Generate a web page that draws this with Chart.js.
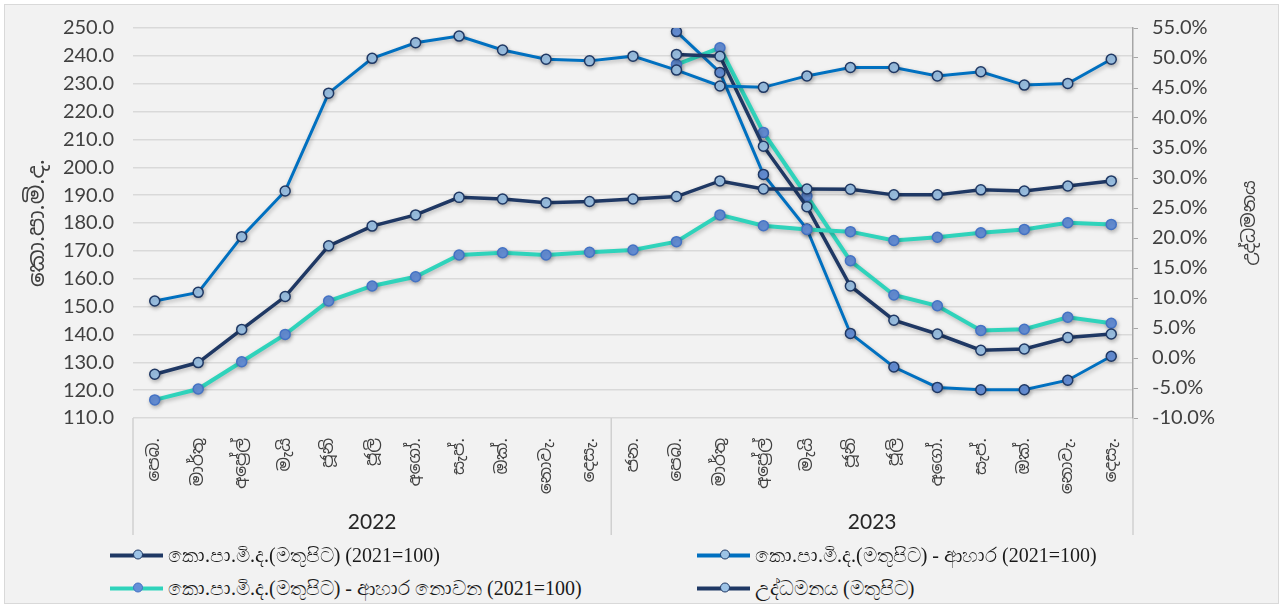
<!DOCTYPE html>
<html>
<head>
<meta charset="utf-8">
<script src="https://cdn.jsdelivr.net/npm/chart.js@4.4.1/dist/chart.umd.min.js"></script>
<style>
  html, body { margin: 0; padding: 0; background: #fff; }
  #wrap {
    position: absolute; left: 4px; top: 4px;
    width: 1273px; height: 598px;
    background: #f2f2f2; border: 1px solid #d9d9d9;
  }
  #box { position: absolute; left: 0; top: 0; width: 1273px; height: 540px; }
  .leg {
    position: absolute; display: flex; align-items: center;
    font: 20px "Liberation Serif", "Times New Roman", serif; color: #1a1a1a;
    white-space: nowrap; transform: translateY(-50%);
  }
  .sw { position: relative; width: 53px; height: 4px; margin-right: 5px; }
  .sw i {
    position: absolute; left: 23px; top: -4px; width: 8px; height: 8px;
    border-radius: 50%; border: 1.5px solid;
  }
</style>
</head>
<body>
<div id="wrap">
  <div id="box"><canvas id="chart"></canvas></div>
  <div id="legend"></div>
</div>
<script>
const months = [
  'පෙබ.', 'මාර්තු', 'අප්‍රේල්', 'මැයි', 'ජූනි', 'ජූලි', 'අගෝ.', 'සැප්.', 'ඔක්.', 'නොවැ.', 'දෙසැ.',
  'ජන.', 'පෙබ.', 'මාර්තු', 'අප්‍රේල්', 'මැයි', 'ජූනි', 'ජූලි', 'අගෝ.', 'සැප්.', 'ඔක්.', 'නොවැ.', 'දෙසැ.'
];
const years = ['2022', '2023'];
const yearCounts = [11, 12];

// index series (left axis)
const ccpi = [125.7, 129.9, 141.8, 153.6, 171.8, 178.9, 182.9, 189.2, 188.6, 187.3, 187.7,
  188.6, 189.5, 195.1, 192.2, 192.2, 192.1, 190.1, 190.1, 191.9, 191.5, 193.3, 195.1];
const ccpiFood = [152.0, 155.1, 175.1, 191.5, 226.6, 239.1, 244.7, 247.1, 242.1, 238.8, 238.2,
  239.9, 234.9, 229.2, 228.7, 232.8, 235.8, 235.8, 232.8, 234.3, 229.5, 230.1, 238.8];
const ccpiNonFood = [116.5, 120.4, 130.2, 140.0, 152.0, 157.4, 160.7, 168.5, 169.3, 168.5, 169.5,
  170.3, 173.3, 182.9, 179.0, 177.7, 176.9, 173.7, 174.9, 176.5, 177.7, 180.1, 179.5];

// inflation series (right axis), Feb 2023 onwards
const pad = new Array(12).fill(null);
const inflation = [...pad, 50.6, 50.3, 35.3, 25.2, 12.0, 6.3, 4.0, 1.3, 1.5, 3.4, 4.0];
const foodInflation = [...pad, 54.4, 47.6, 30.6, 21.5, 4.1, -1.5, -4.9, -5.3, -5.3, -3.7, 0.3];
const nonFoodInflation = [...pad, 48.9, 51.7, 37.6, 27.0, 16.2, 10.5, 8.7, 4.6, 4.8, 6.8, 5.8];

const leftTitle = 'කො.පා.මි.ද.';
const rightTitle = 'උද්ධමනය';

const NAVY = '#1f3864';
const BLUE = '#0070c0';
const TEAL = '#2fd3bb';
const LIGHT = '#9dc3e6';
const MID = '#6690d8';

const sinFont = '"Noto Sans Sinhala", "Iskoola Pota", "Noto Sans", Lato, sans-serif';
const numFont = 'Lato, "Noto Sans", sans-serif';

function ds(label, data, axis, line, fill, edge, width, legend) {
  return {
    label, data, yAxisID: axis, legendShow: legend,
    borderColor: line, borderWidth: width,
    pointBackgroundColor: fill, pointBorderColor: edge,
    pointBorderWidth: 1.5, pointRadius: 5, pointHoverRadius: 5,
    tension: 0, spanGaps: false,
  };
}

const datasets = [
  ds('කො.පා.මි.ද.(මතුපිට) (2021=100)', ccpi, 'y', NAVY, LIGHT, NAVY, 3.5, true),
  ds('කො.පා.මි.ද.(මතුපිට) - ආහාර (2021=100)', ccpiFood, 'y', BLUE, LIGHT, NAVY, 3, true),
  ds('කො.පා.මි.ද.(මතුපිට) - ආහාර නොවන (2021=100)', ccpiNonFood, 'y', TEAL, MID, '#4472c4', 4, true),
  ds('උද්ධමනය (මතුපිට)', inflation, 'y1', NAVY, LIGHT, NAVY, 3.5, true),
  ds('ආහාර උද්ධමනය', foodInflation, 'y1', BLUE, MID, NAVY, 3, false),
  ds('ආහාර නොවන උද්ධමනය', nonFoodInflation, 'y1', TEAL, MID, '#4472c4', 4, false),
];

const shadow = {
  id: 'shadow',
  beforeDatasetDraw(c) {
    const ctx = c.ctx;
    ctx.save();
    ctx.shadowColor = 'rgba(0,0,0,0.25)';
    ctx.shadowBlur = 4;
    ctx.shadowOffsetX = 1;
    ctx.shadowOffsetY = 2;
  },
  afterDatasetDraw(c) { c.ctx.restore(); },
};

const extras = {
  id: 'extras',
  afterDraw(c) {
    const ctx = c.ctx;
    const xs = c.scales.x;
    const area = c.chartArea;
    ctx.save();
    // group separators and year labels under the month ticks
    ctx.strokeStyle = '#d0d0d0';
    ctx.lineWidth = 1.5;
    let start = 0;
    const edges = [xs.getPixelForValue(-0.5)];
    yearCounts.forEach((n) => { start += n; edges.push(xs.getPixelForValue(start - 0.5)); });
    edges.forEach((x) => {
      ctx.beginPath();
      ctx.moveTo(x, area.bottom);
      ctx.lineTo(x, 530);
      ctx.stroke();
    });
    ctx.fillStyle = '#262626';
    ctx.font = '21px ' + numFont;
    ctx.textAlign = 'center';
    ctx.textBaseline = 'middle';
    years.forEach((y, i) => ctx.fillText(y, (edges[i] + edges[i + 1]) / 2, 517));
    // axis titles, both reading bottom to top
    ctx.fillStyle = '#404040';
    const mid = (area.top + area.bottom) / 2;
    [[33, leftTitle, 23], [1245, rightTitle, 18]].forEach(([x, t, sz]) => {
      ctx.save();
      ctx.font = sz + 'px ' + sinFont;
      ctx.translate(x, mid);
      ctx.rotate(-Math.PI / 2);
      ctx.fillText(t, 0, 0);
      ctx.restore();
    });
    ctx.restore();
  },
};

function fixSide(width) {
  return (s) => {
    s.width = width;
    s.paddingTop = 0;
    s.paddingBottom = 0;
  };
}

new Chart(document.getElementById('chart'), {
  type: 'line',
  data: { labels: months, datasets },
  plugins: [shadow, extras],
  options: {
    responsive: true,
    maintainAspectRatio: false,
    animation: false,
    layout: { padding: { top: 23, left: 0, right: 0, bottom: 0 } },
    plugins: { legend: { display: false }, tooltip: { enabled: false } },
    scales: {
      x: {
        offset: true,
        grid: { display: false },
        border: { display: false },
        ticks: {
          autoSkip: false, minRotation: 90, maxRotation: 90, padding: 12,
          color: '#404040', font: { size: 17, family: sinFont },
        },
        afterFit(s) { s.height = 127; },
      },
      y: {
        position: 'left', min: 110, max: 250,
        grid: { color: '#d9d9d9', lineWidth: 1.5, drawTicks: false },
        border: { display: false },
        ticks: {
          stepSize: 10, padding: 19, color: '#404040',
          font: { size: 20, family: numFont },
          callback: (v) => v.toFixed(1),
        },
        afterFit: fixSide(128),
      },
      y1: {
        position: 'right', min: -10, max: 55,
        grid: { drawOnChartArea: false, drawTicks: true, tickLength: 5, color: '#a6a6a6' },
        border: { display: true, color: '#a6a6a6', width: 1.5 },
        ticks: {
          stepSize: 5, padding: 14, color: '#404040',
          font: { size: 20, family: numFont },
          callback: (v) => v.toFixed(1) + '%',
        },
        afterFit: fixSide(145),
      },
    },
  },
});

// legend laid out in two columns like the source
const legendEl = document.getElementById('legend');
const spots = [[105, 550], [692, 550], [105, 583], [692, 583]];
legendEl.innerHTML = datasets.filter((d) => d.legendShow).map((d, i) => `
  <div class="leg" style="left:${spots[i][0]}px;top:${spots[i][1]}px">
    <span class="sw" style="background:${d.borderColor}">
      <i style="background:${d.pointBackgroundColor};border-color:${d.pointBorderColor}"></i>
    </span>${d.label}
  </div>
`).join('');
</script>
</body>
</html>
